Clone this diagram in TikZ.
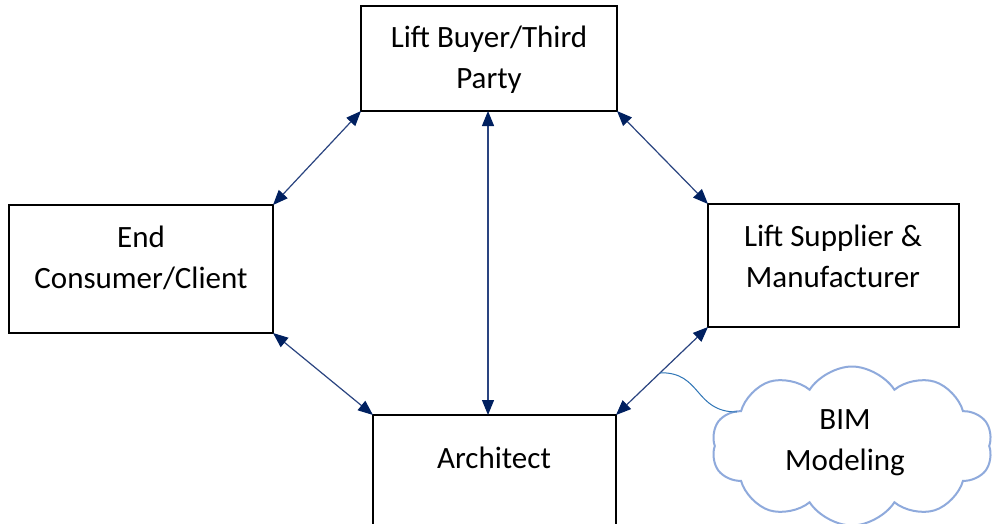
\documentclass[tikz,border=0pt]{standalone}
\usepackage{fontspec}
\setmainfont{Carlito}
\usetikzlibrary{shapes.symbols,arrows.meta}
\definecolor{linkblue}{HTML}{2A4480}
\definecolor{headblue}{HTML}{002060}
\definecolor{cloudblue}{HTML}{8FAADC}
\definecolor{tailblue}{HTML}{2E75B6}
\begin{document}
\begin{tikzpicture}[x=1pt,y=-1pt,
  box/.style={draw=black, line width=2pt, inner sep=0pt, outer sep=0pt, anchor=north west},
  lbl/.style={font=\fontsize{31}{41}\selectfont, align=center, inner sep=0pt, anchor=base},
  link/.style={draw=linkblue, line width=1.2pt,
    {Triangle[length=15pt,width=12pt,color=headblue]}-{Triangle[length=15pt,width=12pt,color=headblue]}},
  tail/.style={draw=tailblue, line width=1pt}]
\useasboundingbox (0,0) rectangle (992,524);
\fill[white] (0,0) rectangle (992,524);
\clip (0,0) rectangle (992,524);

% the four parties
\node[box, minimum width=256pt, minimum height=105pt] (buyer) at (361,6) {};
\node[box, minimum width=264pt, minimum height=128pt] (consumer) at (9,205) {};
\node[box, minimum width=251pt, minimum height=123pt] (supplier) at (708,204) {};
\node[box, minimum width=243pt, minimum height=150pt] (architect) at (373,415) {};

% labels are placed by the baseline of their last line
\node[lbl] (buyerlbl) at (489,89) {Lift Buyer/Third\\Party};
\node[lbl] (consumerlbl) at (141,288) {End\\Consumer/Client};
\node[lbl] (supplierlbl) at (833,287) {Lift Supplier \&\\Manufacturer};
\node[lbl] (architectlbl) at (494,468) {Architect};

% two-way links between the parties
\draw[link] (buyer.south west) -- (consumer.north east);
\draw[link] (buyer.south east) -- (supplier.north west);
\draw[link] (consumer.south east) -- (architect.north west);
\draw[link] (supplier.south west) -- (architect.north east)
  node[coordinate, pos=0.52] (tailstart) {};
\draw[link] (buyer.south -| 488,0) -- (architect.north -| 488,0);

% BIM callout
\node[cloud, draw=cloudblue, line width=2pt, cloud puffs=10, cloud puff arc=115,
  aspect=1.8, minimum width=281pt, minimum height=159pt, inner sep=0pt] (bim) at (852,446) {};
\node[lbl] (bimlbl) at (845,470) {BIM\\Modeling};
\coordinate (tailend) at (737,412);
\draw[tail] (tailstart) .. controls (702,372) and (694,412) .. (tailend);
\end{tikzpicture}
\end{document}
